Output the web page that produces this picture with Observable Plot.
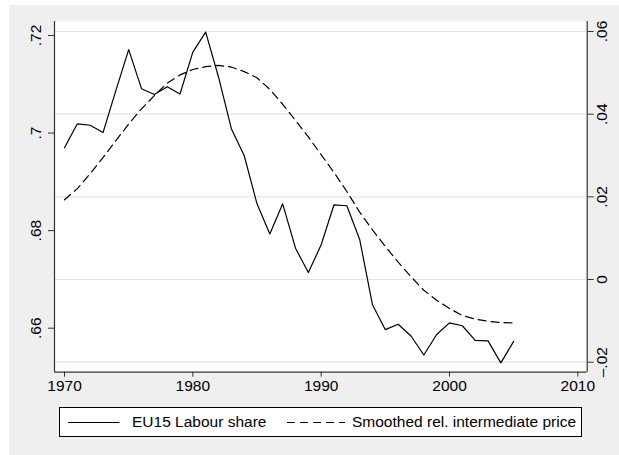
<!DOCTYPE html>
<html><head><meta charset="utf-8">
<script src="https://cdn.jsdelivr.net/npm/d3@7"></script>
<script src="https://cdn.jsdelivr.net/npm/@observablehq/plot@0.6"></script>
<style>
body{margin:0;background:#fff;}
#wrap{position:relative;width:619px;height:455px;background:#fff;overflow:hidden;font-family:"Liberation Sans",Arial,sans-serif;}
#bg{position:absolute;left:9px;top:5px;right:0;bottom:0;background:#efefef;}
#chart{position:absolute;left:0;top:0;}
#legend{position:absolute;left:59px;top:407px;width:521px;height:28px;background:#fff;border:1px solid #000;font-size:15.5px;color:#000;}
#legend .item{position:absolute;top:0;height:28px;line-height:28px;white-space:nowrap;}
#legend svg{position:absolute;top:0;}
</style></head>
<body>
<div id="wrap"><div id="bg"></div><div id="chart"></div>
<div id="legend">
<svg width="521" height="28"><line x1="8" x2="59.5" y1="14.5" y2="14.5" stroke="#000" stroke-width="1.2"/><line x1="227" x2="285" y1="14.5" y2="14.5" stroke="#000" stroke-width="1.2" stroke-dasharray="8,5"/></svg>
<span class="item" style="left:72px">EU15 Labour share</span>
<span class="item" style="left:292px">Smoothed rel. intermediate price</span>
</div></div>
<script>
const years = d3.range(1970, 2006);
const labourShare = [0.6970,0.7019,0.7016,0.7001,0.7087,0.7171,0.7091,0.7079,0.7095,0.7080,
  0.7166,0.7207,0.7115,0.7009,0.6954,0.6855,0.6793,0.6855,0.6764,0.6714,
  0.6771,0.6853,0.6851,0.6782,0.6648,0.6597,0.6608,0.6584,0.6545,0.6587,
  0.6611,0.6605,0.6575,0.6574,0.6529,0.6573];
const smoothedPrice = [0.0193,0.0220,0.0256,0.0295,0.0336,0.0376,0.0413,0.0445,0.0475,0.0495,
  0.0508,0.0515,0.0518,0.0514,0.0503,0.0488,0.0460,0.0424,0.0385,0.0345,
  0.0302,0.0259,0.0213,0.0163,0.0120,0.0080,0.0042,0.0007,-0.0026,-0.0050,
  -0.0070,-0.0087,-0.0096,-0.0101,-0.0104,-0.0105];
const xTicks = [1970,1980,1990,2000,2010];
const leftTicks = [0.66,0.68,0.70,0.72];
const leftTickLabels = [".66",".68",".7",".72"];
const rightTicks = [-0.02,0,0.02,0.04,0.06];
const rightTickLabels = ["\u2013.02","0",".02",".04",".06"];

const xDomain = [1969.22, 2010.73];
const yDomain = [0.65098, 0.72287];
const y2Domain = [-0.02242, 0.06242];
const r2l = d3.scaleLinear().domain(y2Domain).range(yDomain);
const axisColor = "#333";

const chart = Plot.plot({
  width: 619, height: 400,
  marginLeft: 54, marginRight: 32.3, marginTop: 21, marginBottom: 28.3,
  style: {fontFamily: "Liberation Sans, Arial, sans-serif", fontSize: "15.5px", background: "transparent", overflow: "visible", color: "#000"},
  x: {domain: xDomain, label: null},
  y: {domain: yDomain, label: null},
  marks: [
    Plot.frame({fill: "white", stroke: null}),
    Plot.gridY(rightTicks.map(r2l), {stroke: "#e4e4e4", strokeOpacity: 1, strokeWidth: 1.2}),
    Plot.line(smoothedPrice, {x: (d, i) => years[i], y: d => r2l(d), stroke: "#000", strokeWidth: 1.2, strokeDasharray: "8,5"}),
    Plot.line(labourShare, {x: (d, i) => years[i], y: d => d, stroke: "#000", strokeWidth: 1.2}),
    Plot.ruleX([xDomain[0], xDomain[1]], {stroke: axisColor, strokeWidth: 1.2}),
    Plot.ruleY([yDomain[0]], {stroke: axisColor, strokeWidth: 1.2}),
    Plot.axisY(leftTicks, {anchor: "left", tickSize: 6, tickFormat: () => "", stroke: axisColor}),
    Plot.text(leftTicks, {x: xDomain[0], y: d => d, text: (d, i) => leftTickLabels[i], rotate: -90, dx: -18.5, textAnchor: "middle", fontSize: 15.5, fill: "#000"}),
    Plot.axisY(rightTicks.map(r2l), {anchor: "right", tickSize: 6, tickFormat: () => "", stroke: axisColor}),
    Plot.text(rightTicks, {x: xDomain[1], y: d => r2l(d), text: (d, i) => rightTickLabels[i], rotate: -90, dx: 15, textAnchor: "middle", fontSize: 15.5, fill: "#000"}),
    Plot.axisX(xTicks, {anchor: "bottom", tickSize: 5, tickPadding: 3, tickFormat: d => String(d), fontSize: 15.5, stroke: axisColor, fill: "#000"})
  ]
});
document.getElementById("chart").appendChild(chart);
</script>
</body></html>
